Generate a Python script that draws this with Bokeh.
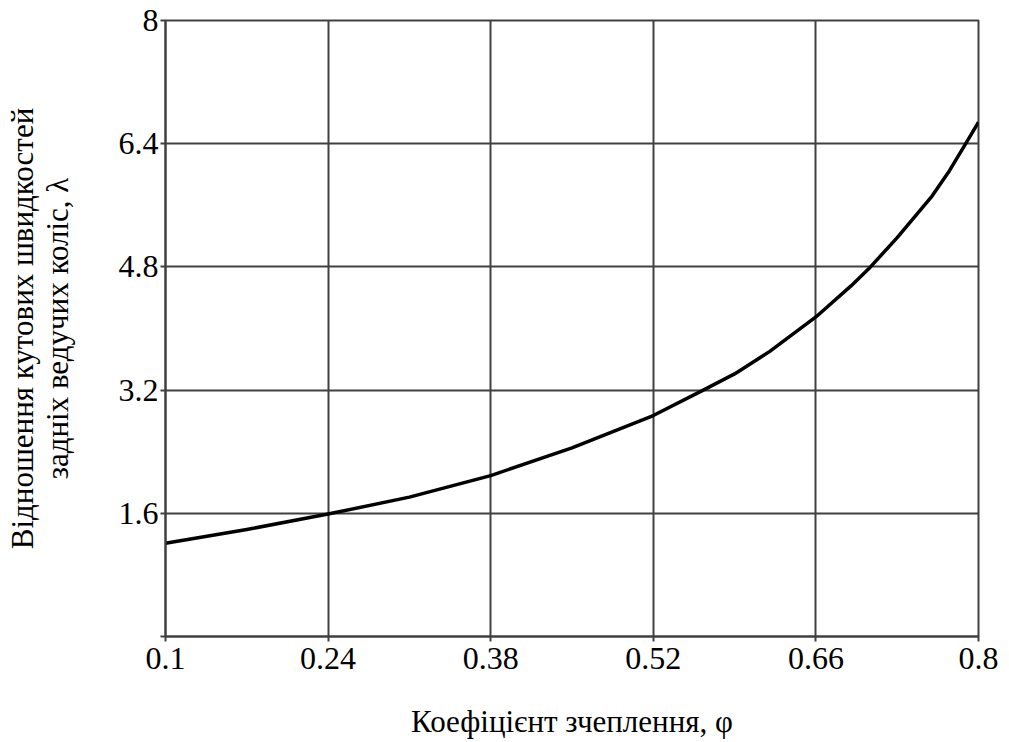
from bokeh.plotting import figure
from bokeh.models import Range1d, FixedTicker
from bokeh.embed import file_html
from bokeh.resources import INLINE

phi = [0.10, 0.17, 0.24, 0.31, 0.38, 0.45, 0.52, 0.563, 0.59, 0.62, 0.66, 0.69, 0.707, 0.73, 0.76, 0.775, 0.789, 0.80]
lam = [1.21, 1.39, 1.59, 1.81, 2.09, 2.45, 2.87, 3.20, 3.41, 3.70, 4.15, 4.55, 4.80, 5.18, 5.72, 6.05, 6.40, 6.68]

x_ticks = [0.1, 0.24, 0.38, 0.52, 0.66, 0.8]
y_ticks = [0, 1.6, 3.2, 4.8, 6.4, 8]
x_labels = {0.1: "0.1", 0.24: "0.24", 0.38: "0.38", 0.52: "0.52", 0.66: "0.66", 0.8: "0.8"}
y_labels = {0: "", 1.6: "1.6", 3.2: "3.2", 4.8: "4.8", 6.4: "6.4", 8: "8"}

FONT = "'Liberation Serif', 'Times New Roman', serif"

p = figure(width=1009, height=742, output_backend="svg", toolbar_location=None,
           x_range=Range1d(0.1, 0.8), y_range=Range1d(0, 8),
           min_border_left=165, min_border_right=31, min_border_top=20, min_border_bottom=106)
p.background_fill_color = "white"
p.border_fill_color = "white"
p.outline_line_color = "#404040"
p.outline_line_width = 2

p.line(phi, lam, line_color="black", line_width=3.5, line_join="round")

for ax, ticks, labels in ((p.xaxis[0], x_ticks, x_labels), (p.yaxis[0], y_ticks, y_labels)):
    ax.ticker = FixedTicker(ticks=ticks)
    ax.major_label_overrides = labels
    ax.minor_tick_line_color = None
    ax.major_tick_in = 0
    ax.major_tick_out = 5
    ax.major_tick_line_color = "#404040"
    ax.major_tick_line_width = 2
    ax.axis_line_color = "#404040"
    ax.axis_line_width = 2
    ax.major_label_text_font = FONT
    ax.major_label_text_font_size = "32px"
    ax.major_label_text_color = "black"
    ax.axis_label_text_font = FONT
    ax.axis_label_text_font_size = "31px"
    ax.axis_label_text_font_style = "normal"
    ax.axis_label_text_color = "black"

p.xaxis[0].major_label_standoff = 6
p.yaxis[0].major_label_standoff = 2
p.xaxis[0].axis_label = "Коефіцієнт зчеплення, φ"
p.xaxis[0].axis_label_standoff = 32
p.xaxis[0].axis_label_text_line_height = 1.0
p.yaxis[0].axis_label = "Відношення кутових швидкостей\nзадніх ведучих коліс, λ"
p.yaxis[0].axis_label_standoff = 41
p.yaxis[0].axis_label_text_line_height = 1.0

p.xgrid.ticker = FixedTicker(ticks=x_ticks)
p.ygrid.ticker = FixedTicker(ticks=y_ticks)
for g in (p.xgrid[0], p.ygrid[0]):
    g.grid_line_color = "#404040"
    g.grid_line_width = 2
    g.grid_line_alpha = 1.0

open("out.html", "w").write(file_html(p, INLINE))
